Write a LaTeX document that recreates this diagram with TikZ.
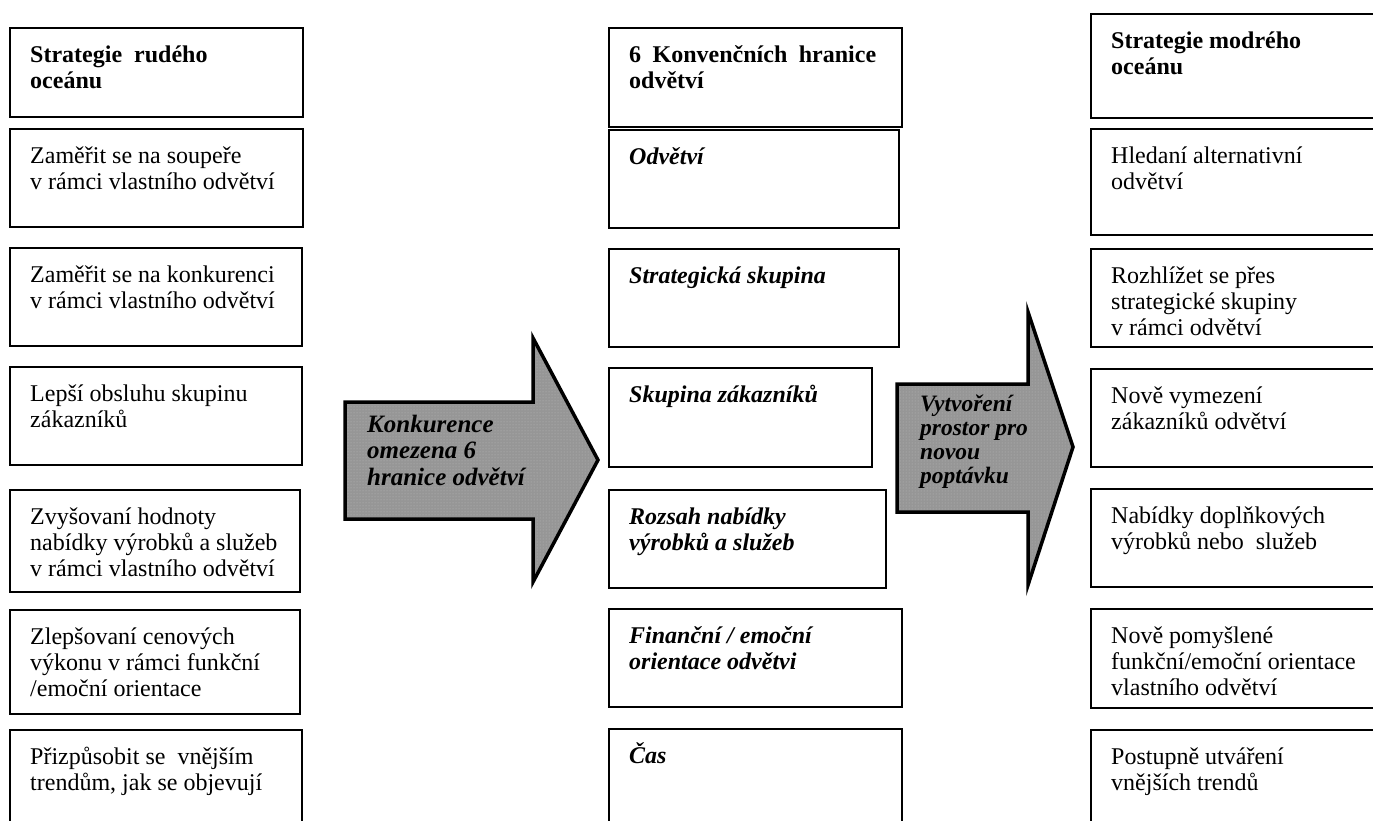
\documentclass[tikz,border=0pt]{standalone}
\usepackage{fontspec}
\setmainfont{Liberation Serif}
\usetikzlibrary{patterns}
\begin{document}
\begin{tikzpicture}[x=1pt,y=-1pt,
  cellframe/.style={draw=black,line width=2pt},
  celltext/.style={anchor=north west,inner sep=0pt,align=left,
    font=\fontsize{24}{26}\selectfont},
  arrowshape/.style={draw=black,line width=3.5pt,line join=miter,
    preaction={fill={rgb,255:red,150;green,150;blue,150}},
    preaction={pattern=dots,pattern color={rgb,255:red,185;green,185;blue,185}}},
  arrowtext/.style={anchor=north west,inner sep=0pt,align=left,
    font=\fontsize{25}{26.5}\selectfont\bfseries\itshape}]
\useasboundingbox (0,0) rectangle (1373,821);
\clip (0,0) rectangle (1373,821);

% one framed cell: name, left, top, right, bottom, text
\newcommand\drawcell[6]{%
  \draw[cellframe] (#2,#3) rectangle (#4,#5);
  \node[celltext] (#1) at (#2+20,#3+9) {\rule{0pt}{25pt}#6};}

% red ocean strategy
\drawcell{l1}{10}{28}{303}{117}{\bfseries Strategie\ \ rudého\\\bfseries oceánu}
\drawcell{l2}{10}{129}{303}{227}{Zaměřit se na soupeře\\v rámci vlastního odvětví}
\drawcell{l3}{10}{248}{302}{346}{Zaměřit se na konkurenci\\v rámci vlastního odvětví}
\drawcell{l4}{10}{367}{302}{465}{Lepší obsluhu skupinu\\zákazníků}
\drawcell{l5}{10}{490}{300}{592}{Zvyšovaní hodnoty\\nabídky výrobků a služeb\\v rámci vlastního odvětví}
\drawcell{l6}{10}{610}{300}{714}{Zlepšovaní cenových\\výkonu v rámci funkční\\/emoční orientace}
\drawcell{l7}{10}{730}{302}{832}{Přizpůsobit se\ \ vnějším\\trendům, jak se objevují}

% six conventional boundaries
\drawcell{m1}{609}{28}{902}{127}{\bfseries\hbox to 247pt{6\hfill Konvenčních\hfill hranice}\\\bfseries odvětví}
\drawcell{m2}{609}{130}{899}{228}{\bfseries\itshape Odvětví}
\drawcell{m3}{609}{249}{899}{347}{\bfseries\itshape Strategická skupina}
\drawcell{m4}{609}{368}{872}{467}{\bfseries\itshape Skupina zákazníků}
\drawcell{m5}{609}{490}{886}{588}{\bfseries\itshape Rozsah nabídky\\\bfseries\itshape výrobků a služeb}
\drawcell{m6}{609}{609}{902}{707}{\bfseries\itshape Finanční / emoční\\\bfseries\itshape orientace odvětvi}
\drawcell{m7}{609}{729}{902}{832}{\bfseries\itshape Čas}

% blue ocean strategy
\drawcell{r1}{1091}{14}{1400}{118}{\bfseries Strategie modrého\\\bfseries oceánu}
\drawcell{r2}{1091}{129}{1400}{235}{Hledaní alternativní\\odvětví}
\drawcell{r3}{1091}{249}{1400}{347}{Rozhlížet se přes\\strategické skupiny\\v rámci odvětví}
\drawcell{r4}{1091}{369}{1400}{467}{Nově vymezení\\zákazníků odvětví}
\drawcell{r5}{1091}{489}{1400}{587}{Nabídky doplňkových\\výrobků nebo\ \ služeb}
\drawcell{r6}{1091}{609}{1400}{708}{Nově pomyšlené\\funkční/emoční orientace\\vlastního odvětví}
\drawcell{r7}{1091}{730}{1400}{832}{Postupně utváření\\vnějších trendů}

% block arrows
\draw[arrowshape] (345,402) -- (533,402) -- (533,338) -- (598,460)
  -- (533,582) -- (533,519) -- (345,519) -- cycle;
\node[arrowtext] (a1) at (367,407) {\rule{0pt}{25pt}Konkurence\\omezena 6\\hranice odvětví};

\draw[arrowshape] (897,384) -- (1028,384) -- (1028,312) -- (1073,447)
  -- (1028,585) -- (1028,512) -- (897,512) -- cycle;
\node[arrowtext,font=\fontsize{23.5}{24}\selectfont\bfseries\itshape] (a2) at (920,386)
  {\rule{0pt}{25pt}Vytvoření\\prostor pro\\novou\\poptávku};
\end{tikzpicture}
\end{document}
